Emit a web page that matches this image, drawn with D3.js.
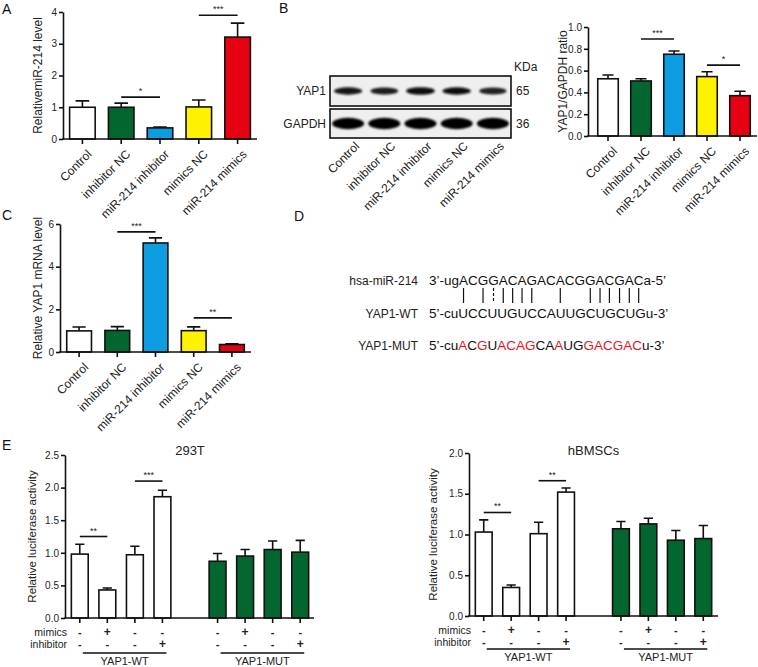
<!DOCTYPE html>
<html><head><meta charset="utf-8">
<script src="https://cdn.jsdelivr.net/npm/d3@7"></script>
<style>
body{margin:0;background:#fff}
svg{display:block;font-family:"Liberation Sans",Arial,sans-serif}
</style></head><body>
<svg id="c" width="758" height="667"></svg>
<script>
// ---------------- DATA ----------------
const groups = ["Control","inhibitor NC","miR-214 inhibitor","mimics NC","miR-214 mimics"];
const groupColors = ["#ffffff","#03662f","#0d9de0","#fff200","#e50012"];
const miR214Level = [1.00,1.00,0.35,1.01,3.21];
const miR214Err   = [0.20,0.13,0.03,0.22,0.44];
const yapRatio    = [0.525,0.505,0.75,0.545,0.37];
const yapRatioErr = [0.035,0.02,0.03,0.045,0.04];
const yapMRNA     = [0.99,1.01,5.11,1.00,0.35];
const yapMRNAErr  = [0.18,0.18,0.24,0.18,0.03];
const blotYAP1  = [0.85,0.78,0.95,0.9,0.72];
const blotGAPDH = [1,1,1,1,1];
const sigA = [[1,2,1.32,"*"],[3,4,3.9,"***"]];
const sigB = [[1,2,0.89,"***"],[3,4,0.65,"*"]];
const sigC = [[1,2,5.63,"***"],[3,4,1.6,"**"]];
const mirSeq = "3’-ugACGGACAGACACGGACGACa-5’";
const wtSeq  = "5’-cuUCCUUGUCCAUUGCUGCUGu-3’";
const pairMarks = ["|"," ","|",":","|","|","|","|"," "," ","|"," "," ","|","|","|","|","|","|"];
const mutSegments = [["5’-cu",0],["A",1],["C",0],["G",1],["U",0],["ACAG",1],["CA",0],["A",1],["UG",0],["GACGAC",1],["u-3’",0]];
const lucGroups = ["YAP1-WT","YAP1-MUT"];
const lucSlots = [0,1,2,3,5,6,7,8];
const mimicsRow    = ["-","+","-","-","-","+","-","-"];
const inhibitorRow = ["-","-","-","+","-","-","-","+"];
const lucColors = ["#ffffff","#ffffff","#ffffff","#ffffff","#03662f","#03662f","#03662f","#03662f"];
const luc293T    = [0.98,0.43,0.97,1.86,0.87,0.95,1.05,1.01];
const luc293TErr = [0.15,0.03,0.13,0.10,0.12,0.10,0.13,0.18];
const lucBMSC    = [1.03,0.35,1.01,1.52,1.07,1.13,0.93,0.95];
const lucBMSCErr = [0.15,0.03,0.14,0.05,0.09,0.07,0.12,0.16];
const sig293 = [[0,1,1.25,"**"],[2,3,2.1,"***"]];
const sigBM  = [[0,1,1.27,"**"],[2,3,1.66,"**"]];

// ---------------- DRAW ----------------
const svg = d3.select("#c");
const SW = 1.6;

function barPanel(cfg){
  const g = svg.append("g");
  const y = d3.scaleLinear().domain([0,cfg.ymax]).range([cfg.yBottom,cfg.yTop]);
  const x = d3.scaleBand().domain(cfg.slots).range(cfg.xRange).paddingInner(cfg.pad).paddingOuter(cfg.pad/2);
  const cx = s => x(s)+x.bandwidth()/2;
  const data = cfg.values.map((v,i)=>({v, e:cfg.errs[i], slot:cfg.barSlots[i], color:cfg.colors[i]}));
  g.selectAll(".err").data(data).join("path").attr("class","err")
    .attr("d", d=>{const c=cx(d.slot), hw=x.bandwidth()/4, t=y(d.v+d.e);
      return `M${c},${y(d.v)}V${t}M${c-hw},${t}H${c+hw}`;})
    .attr("stroke","#111").attr("stroke-width",SW).attr("fill","none");
  g.selectAll(".bar").data(data).join("rect").attr("class","bar")
    .attr("x", d=>x(d.slot)+SW/2).attr("width",x.bandwidth()-SW)
    .attr("y", d=>y(d.v)).attr("height", d=>y(0)-y(d.v))
    .attr("fill", d=>d.color).attr("stroke","#111").attr("stroke-width",SW);
  const ya = g.append("g").attr("transform",`translate(${cfg.axisX},0)`)
    .call(d3.axisLeft(y).tickValues(cfg.ticks).tickFormat(cfg.fmt).tickSize(4).tickSizeOuter(0).tickPadding(2));
  ya.selectAll("path,line").attr("stroke","#111").attr("stroke-width",SW);
  ya.selectAll("text").attr("font-size",10).attr("fill","#222");
  ya.attr("font-family",null);
  g.append("line").attr("x1",cfg.axisX-SW/2).attr("x2",cfg.xEnd).attr("y1",y(0)).attr("y2",y(0))
    .attr("stroke","#111").attr("stroke-width",SW);
  g.selectAll(".xt").data(data).join("line").attr("class","xt")
    .attr("x1",d=>cx(d.slot)).attr("x2",d=>cx(d.slot)).attr("y1",y(0)).attr("y2",y(0)+5)
    .attr("stroke","#111").attr("stroke-width",SW);
  g.append("text").attr("transform",`translate(${cfg.ylabelX},${(cfg.yTop+cfg.yBottom)/2}) rotate(-90)`)
    .attr("text-anchor","middle").attr("font-size",cfg.ylabelSize||12).attr("fill","#222").text(cfg.ylabel);
  (cfg.sigs||[]).forEach(s=>{
    const a=cfg.barSlots[s[0]], b=cfg.barSlots[s[1]], yy=y(s[2]);
    g.append("line").attr("x1",cx(a)).attr("x2",cx(b)).attr("y1",yy).attr("y2",yy)
      .attr("stroke","#111").attr("stroke-width",SW);
    g.append("text").attr("x",(cx(a)+cx(b))/2).attr("y",yy-3).attr("text-anchor","middle")
      .attr("font-size",9).attr("fill","#222").text(s[3]);
  });
  if(cfg.catLabels){
    g.selectAll(".cl").data(cfg.catLabels).join("text").attr("class","cl")
      .attr("transform",(d,i)=>`translate(${cx(cfg.barSlots[i])+4},${y(0)+10}) rotate(-45)`)
      .attr("text-anchor","end").attr("dy","0.7em").attr("font-size",12).attr("fill","#222").text(d=>d);
  }
  if(cfg.title){
    g.append("text").attr("x",(cfg.xRange[0]+cfg.xRange[1])/2).attr("y",cfg.titleY)
      .attr("text-anchor","middle").attr("font-size",13).attr("fill","#222").text(cfg.title);
  }
  if(cfg.rows){
    const rowsY=cfg.rowsY;
    [["mimics",mimicsRow],["inhibitor",inhibitorRow]].forEach((r,ri)=>{
      g.append("text").attr("x",cfg.axisX+2).attr("y",rowsY[ri]).attr("text-anchor","end")
        .attr("font-size",10.5).attr("fill","#222").text(r[0]);
      g.selectAll(".r"+ri).data(r[1]).join("text").attr("class","r"+ri)
        .attr("x",(d,i)=>cx(cfg.barSlots[i])).attr("y",rowsY[ri]).attr("text-anchor","middle")
        .attr("font-size",d=>d==="+"?12:11).attr("font-weight","bold").attr("fill","#222").text(d=>d);
    });
    lucGroups.forEach((name,gi)=>{
      const s0=cfg.barSlots[gi*4], s3=cfg.barSlots[gi*4+3];
      const x0=cx(s0)+3, x1=cx(s3)+4;
      g.append("line").attr("x1",x0).attr("x2",x1).attr("y1",cfg.lineY).attr("y2",cfg.lineY)
        .attr("stroke","#111").attr("stroke-width",1.3);
      g.append("text").attr("x",(x0+x1)/2).attr("y",cfg.lineY+12).attr("text-anchor","middle")
        .attr("font-size",11).attr("fill","#222").text(name);
    });
  }
}

[["A",2,14],["B",279,13],["C",2,220],["D",294,221],["E",2,450]].forEach(p=>{
  svg.append("text").attr("x",p[1]).attr("y",p[2]).attr("font-size",14).attr("fill","#111").text(p[0]);
});

barPanel({ymax:4,yBottom:139,yTop:12,slots:d3.range(5),barSlots:d3.range(5),xRange:[63,257],pad:0.3,
  values:miR214Level,errs:miR214Err,colors:groupColors,axisX:63,xEnd:257,ticks:[0,1,2,3,4],fmt:d3.format("d"),
  ylabel:"RelativemiR-214 level",ylabelX:42,sigs:sigA,catLabels:groups});
barPanel({ymax:1,yBottom:136,yTop:27,slots:d3.range(5),barSlots:d3.range(5),xRange:[591.5,756.5],pad:0.33,
  values:yapRatio,errs:yapRatioErr,colors:groupColors,axisX:588,xEnd:757,ticks:[0,0.2,0.4,0.6,0.8,1.0],fmt:d3.format(".1f"),
  ylabel:"YAP1/GAPDH ratio",ylabelX:567,sigs:sigB,catLabels:groups});
barPanel({ymax:6,yBottom:352,yTop:224,slots:d3.range(5),barSlots:d3.range(5),xRange:[60,251],pad:0.31,
  values:yapMRNA,errs:yapMRNAErr,colors:groupColors,axisX:60,xEnd:251,ticks:[0,2,4,6],fmt:d3.format("d"),
  ylabel:"Relative YAP1 mRNA level",ylabelX:42,sigs:sigC,catLabels:groups});
barPanel({ymax:2.5,yBottom:618,yTop:455,slots:d3.range(9),barSlots:lucSlots,xRange:[66,314],pad:0.33,
  values:luc293T,errs:luc293TErr,colors:lucColors,axisX:65,xEnd:314,ticks:[0,0.5,1,1.5,2,2.5],fmt:d3.format(".1f"),
  ylabel:"Relative luciferase activity",ylabelX:36,ylabelSize:11.5,sigs:sig293,title:"293T",titleY:455,
  rows:true,rowsY:[636,648],lineY:653});
barPanel({ymax:2,yBottom:616,yTop:453,slots:d3.range(9),barSlots:lucSlots,xRange:[470,717],pad:0.33,
  values:lucBMSC,errs:lucBMSCErr,colors:lucColors,axisX:469,xEnd:718,ticks:[0,0.5,1,1.5,2],fmt:d3.format(".1f"),
  ylabel:"Relative luciferase activity",ylabelX:437,ylabelSize:11.5,sigs:sigBM,title:"hBMSCs",titleY:455,
  rows:true,rowsY:[634,646],lineY:649});

(function(){
  const g = svg.append("g");
  const defs = svg.append("defs");
  defs.append("filter").attr("id","blur").attr("x","-50%").attr("y","-100%").attr("width","200%").attr("height","300%")
    .append("feGaussianBlur").attr("stdDeviation",1.3);
  const lx = d3.scaleBand().domain(groups).range([330,511]);
  const rows = [{name:"YAP1",kda:"65",y0:76,y1:106,vals:blotYAP1,ry:3.8,rx:14.5},
                {name:"GAPDH",kda:"36",y0:109,y1:138,vals:blotGAPDH,ry:5.8,rx:16}];
  rows.forEach(r=>{
    g.append("rect").attr("x",330).attr("y",r.y0).attr("width",181).attr("height",r.y1-r.y0)
      .attr("fill","#efefef").attr("stroke","#111").attr("stroke-width",1.6);
    const cy=(r.y0+r.y1)/2;
    g.selectAll(null).data(r.vals).join("ellipse")
      .attr("cx",(d,i)=>lx(groups[i])+lx.bandwidth()/2).attr("cy",cy)
      .attr("rx",d=>r.rx*(0.8+0.2*d)).attr("ry",d=>r.ry*(0.7+0.3*d))
      .attr("fill",d=>d3.interpolateRgb("#666","#050505")(d)).attr("filter","url(#blur)");
    g.append("text").attr("x",326).attr("y",cy+4).attr("text-anchor","end").attr("font-size",12).attr("fill","#222").text(r.name);
    g.append("text").attr("x",516).attr("y",cy+4).attr("font-size",12).attr("fill","#222").text(r.kda);
  });
  g.append("text").attr("x",514).attr("y",71).attr("font-size",12).attr("fill","#222").text("KDa");
  g.selectAll(".bl").data(groups).join("text").attr("class","bl")
    .attr("transform",d=>`translate(${lx(d)+lx.bandwidth()/2+6},${141}) rotate(-45)`)
    .attr("text-anchor","end").attr("dy","0.7em").attr("font-size",12).attr("fill","#222").text(d=>d);
})();

(function(){
  const g = svg.append("g");
  const sx = 429, fs = 13.5;
  const lab = [["hsa-miR-214",285],["YAP1-WT",318],["YAP1-MUT",350]];
  lab.forEach(l=>g.append("text").attr("x",418).attr("y",l[1]).attr("text-anchor","end")
    .attr("font-size",12).attr("fill","#222").text(l[0]));
  const mir = g.append("text").attr("x",sx).attr("y",285).attr("font-size",fs).attr("fill","#111").text(mirSeq);
  g.append("text").attr("x",sx).attr("y",318).attr("font-size",fs).attr("fill","#111").text(wtSeq);
  const mut = g.append("text").attr("x",sx).attr("y",350).attr("font-size",fs);
  mutSegments.forEach(s=>mut.append("tspan").attr("fill",s[1]?"#e8141c":"#111").text(s[0]));
  const node = mir.node();
  pairMarks.forEach((m,k)=>{
    if(m===" ") return;
    const idx = 5+k;
    const a = node.getStartPositionOfChar(idx).x, b = node.getEndPositionOfChar(idx).x;
    const c = (a+b)/2;
    g.append("line").attr("x1",c).attr("x2",c).attr("y1",288).attr("y2",303)
      .attr("stroke","#111").attr("stroke-width",1.2)
      .attr("stroke-dasharray",m===":"?"3,2":null);
  });
})();
</script></body></html>
